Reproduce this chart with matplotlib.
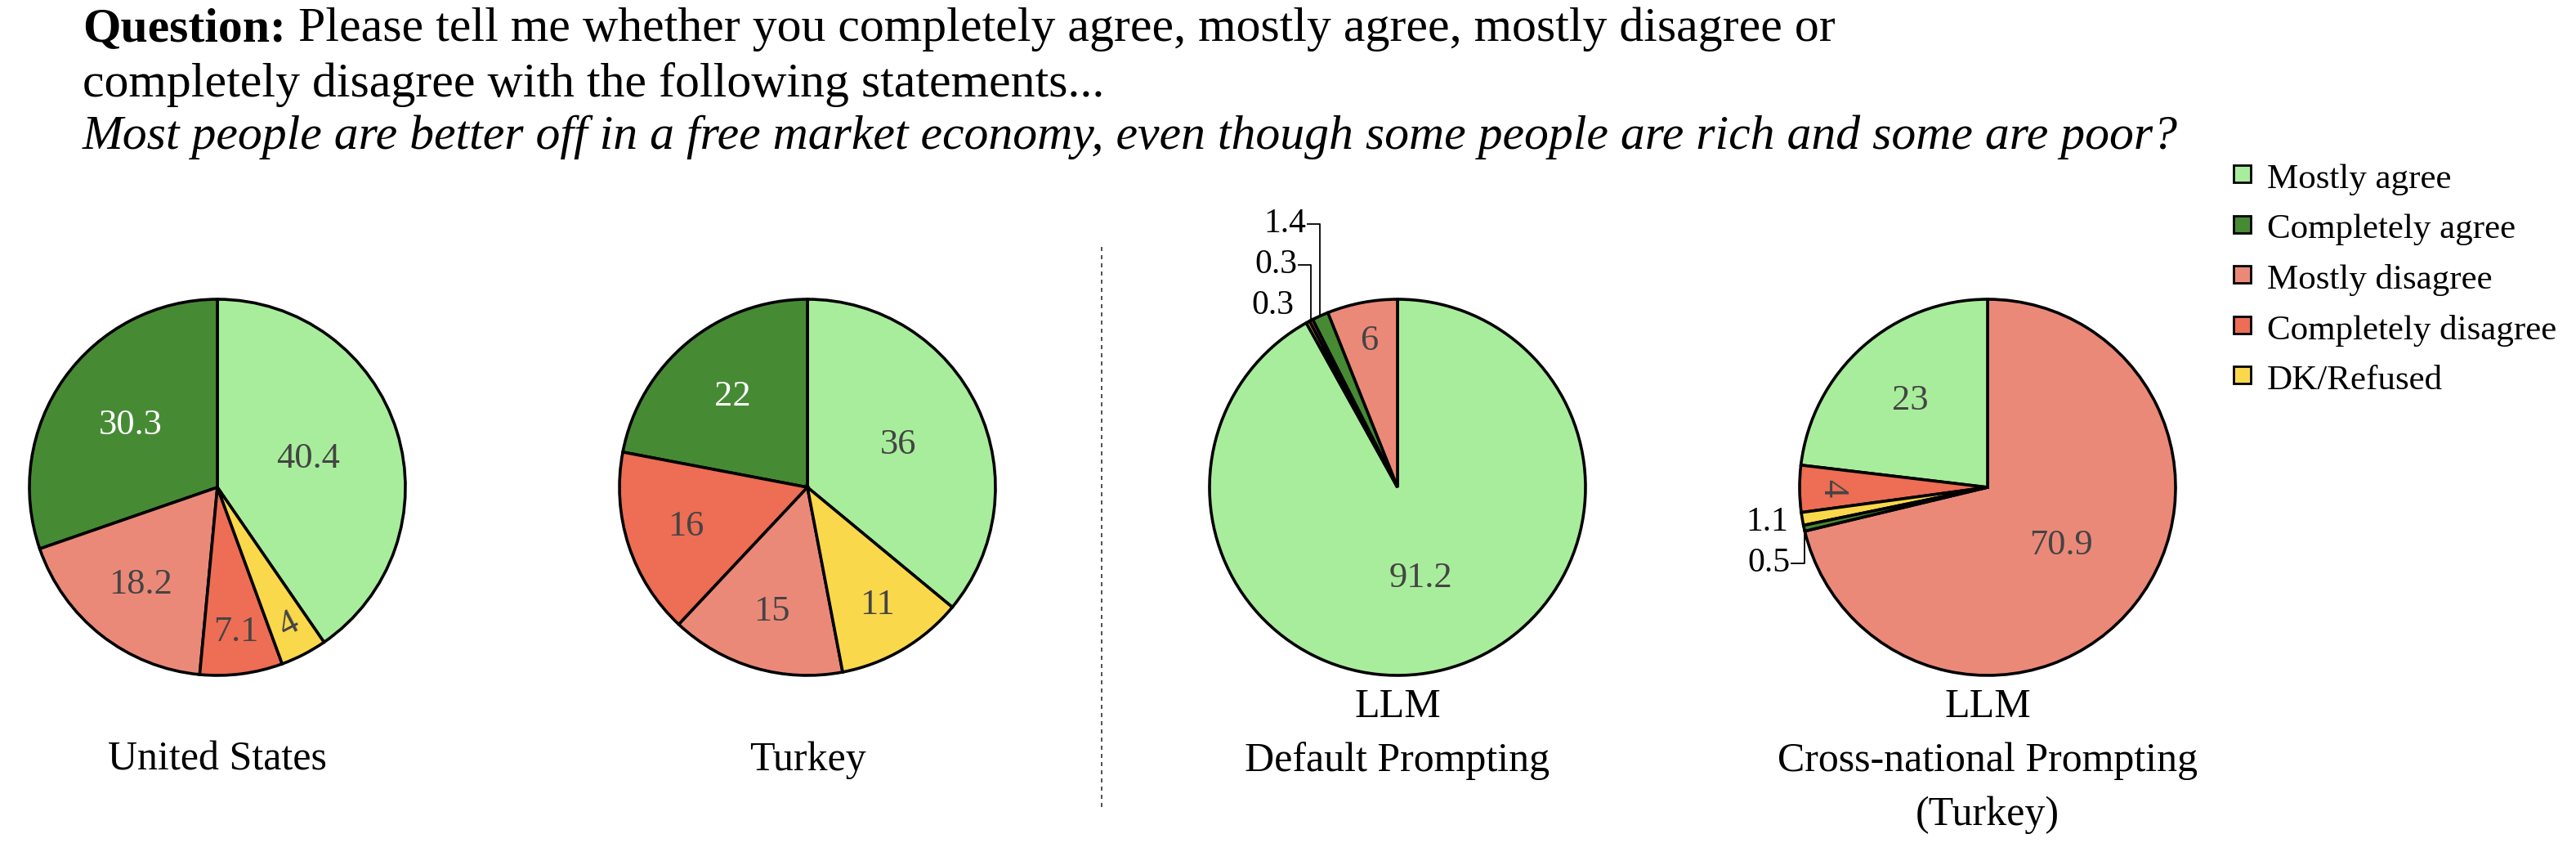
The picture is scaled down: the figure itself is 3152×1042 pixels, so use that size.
import numpy as np
import matplotlib.pyplot as plt
from matplotlib.patches import Rectangle

plt.rcParams['font.family'] = ['Liberation Serif', 'DejaVu Serif']

# answer categories and colours (legend order)
categories = ['Mostly agree', 'Completely agree', 'Mostly disagree',
              'Completely disagree', 'DK/Refused']
colors = ['#a8ed9b', '#478a34', '#eb8979', '#ed6d55', '#f9d84b']
text_colors = ['#444444', 'white', '#444444', '#444444', '#444444']

# values per pie, in category order
us_values = [40.4, 30.3, 18.2, 7.1, 4]
turkey_values = [36, 22, 15, 16, 11]
llm_default_values = [91.2, 1.4, 6, 0.3, 0.3]
llm_cross_values = [23, 0.5, 70.9, 4, 1.1]

pie_values = [us_values, turkey_values, llm_default_values, llm_cross_values]
pie_titles = [['United States'],
              ['Turkey'],
              ['LLM', 'Default Prompting'],
              ['LLM', 'Cross-national Prompting', '(Turkey)']]

W, H = 3152, 1042
R = 230

fig = plt.figure(figsize=(W / 100, H / 100), dpi=100)
ax = fig.add_axes([0, 0, 1, 1])


def fmt(v):
    return f'{v:g}'


def draw_pie(values, cx, cy):
    order = sorted(range(len(values)), key=lambda i: -values[i])
    vals = [values[i] for i in order]
    total = sum(vals)
    start = 90 - 360 * vals[0] / total
    wedges, _ = ax.pie(vals, colors=[colors[i] for i in order],
                       startangle=start, counterclock=True, radius=R,
                       center=(cx, cy), frame=True,
                       wedgeprops=dict(edgecolor='black', linewidth=2.6))

    small = []
    for w, i, v in zip(wedges, order, vals):
        frac = v / total
        mid = np.deg2rad((w.theta1 + w.theta2) / 2)
        if frac >= 0.02:
            rr = np.clip(0.97 - 0.73 * np.sqrt(frac), 0.5, 0.84)
            rot = 0
            if frac < 0.05:
                rot = (np.rad2deg(mid) + 90 + 180) % 360 - 180
            ax.text(cx + rr * R * np.cos(mid), cy + rr * R * np.sin(mid),
                    fmt(v), ha='center', va='center', rotation=rot,
                    fontsize=32, color=text_colors[i])
        else:
            small.append((mid, v))

    # outside labels for the tiny slices, stacked away from the middle
    small.sort(key=lambda s: abs(np.sin(s[0])))
    prev = None
    for mid, v in small:
        px, py = cx + R * np.cos(mid), cy + R * np.sin(mid)
        side = np.sign(np.sin(mid)) or 1
        ly = py + 0.1 * R * np.sin(mid)
        moved = False
        if prev is not None and side * (ly - prev) < 50:
            ly = prev + side * 50
            moved = True
        prev = ly
        lx = px - 0.074 * R
        ax.text(lx, ly, fmt(v), ha='right', va='center', fontsize=30,
                color='black')
        if moved:
            ax.plot([lx + 2, px, px], [ly, ly, py], color='black', lw=1.3)


for k, vals in enumerate(pie_values):
    cx = 266 + 722 * k
    cy = H - 596
    draw_pie(vals, cx, cy)
    lines = pie_titles[k]
    y0 = H - 942 if len(lines) == 1 else H - 877
    for j, line in enumerate(lines):
        ax.text(cx, y0 - 66 * j, line, ha='center', va='baseline',
                fontsize=36)

# separator between survey and LLM results
ax.plot([1348, 1348], [H - 302, H - 990], color='#333333', lw=1.2,
        linestyle=(0, (3, 3)))

# title
t1 = ax.text(101, H - 50, 'Question:', fontsize=43, fontweight='bold',
             va='baseline', ha='left')
ax.annotate(' Please tell me whether you completely agree, mostly agree, '
            'mostly disagree or', xy=(1, 0), xycoords=t1, va='bottom',
            ha='left', fontsize=43)
ax.text(101, H - 118, 'completely disagree with the following statements...',
        fontsize=43, va='baseline', ha='left')
ax.text(101, H - 182, 'Most people are better off in a free market economy, '
        'even though some people are rich and some are poor?',
        fontsize=43, style='italic', va='baseline', ha='left')

# legend
for i, cat in enumerate(categories):
    base = H - (230 + 61.5 * i)
    ax.add_patch(Rectangle((2733, base + 7), 21, 21, facecolor=colors[i],
                           edgecolor='black', linewidth=2))
    ax.text(2774, base, cat, fontsize=31, va='baseline', ha='left')

ax.set_xlim(0, W)
ax.set_ylim(0, H)
ax.axis('off')

fig.savefig('out.png', dpi=100)
